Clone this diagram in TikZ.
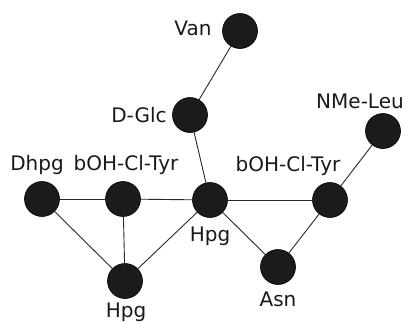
\documentclass[tikz,border=0pt]{standalone}
\usepackage{fontspec}
\setmainfont{DejaVu Sans}
\definecolor{resdark}{RGB}{28,26,26}
\definecolor{bondgray}{RGB}{40,40,40}
\usetikzlibrary{positioning}

\begin{document}
\begin{tikzpicture}[x=1pt,y=-1pt,
  res/.style={circle,draw=black,fill=resdark,line width=0.6pt,minimum size=35pt,inner sep=0pt},
  lbl/.style={font=\fontsize{20}{24}\selectfont,text=black!90,inner sep=0pt},
  bond/.style={bondgray,line width=0.9pt}]
  \useasboundingbox (0,0) rectangle (405,322);

  % Residues
  \node[res] (van) at (240,31) {};
  \node[res] (glc) at (190,115) {};
  \node[res] (leu) at (383,131) {};
  \node[res] (dhpg) at (42,199) {};
  \node[res] (tyrA) at (123,199) {};
  \node[res] (hpgA) at (210,200) {};
  \node[res] (tyrB) at (330,200) {};
  \node[res] (hpgB) at (125,281) {};
  \node[res] (asn) at (278,267) {};

  % Labels
  \node[lbl] (tvan) at (193,28) {Van};
  \node[lbl] (tglc) at (139,115) {D-Glc};
  \node[lbl] (tleu) at (360,101) {NMe-Leu};
  \node[lbl] (tdhpg) at (37,165) {Dhpg};
  \node[lbl] (ttyrA) at (126,165) {bOH-Cl-Tyr};
  \node[lbl] (thpgA) at (210,236) {Hpg};
  \node[lbl] (ttyrB) at (288,166) {bOH-Cl-Tyr};
  \node[lbl] (thpgB) at (126,312) {Hpg};
  \node[lbl] (tasn) at (278,299) {Asn};

  % Bonds
  \draw[bond] (van) -- (glc);
  \draw[bond] (glc) -- (hpgA);
  \draw[bond] (dhpg) -- (tyrA);
  \draw[bond] (tyrA) -- (hpgA);
  \draw[bond] (hpgA) -- (tyrB);
  \draw[bond] (leu) -- (tyrB);
  \draw[bond] (dhpg) -- (hpgB);
  \draw[bond] (tyrA) -- (hpgB);
  \draw[bond] (hpgB) -- (hpgA);
  \draw[bond] (hpgA) -- (asn);
  \draw[bond] (asn) -- (tyrB);
\end{tikzpicture}
\end{document}
